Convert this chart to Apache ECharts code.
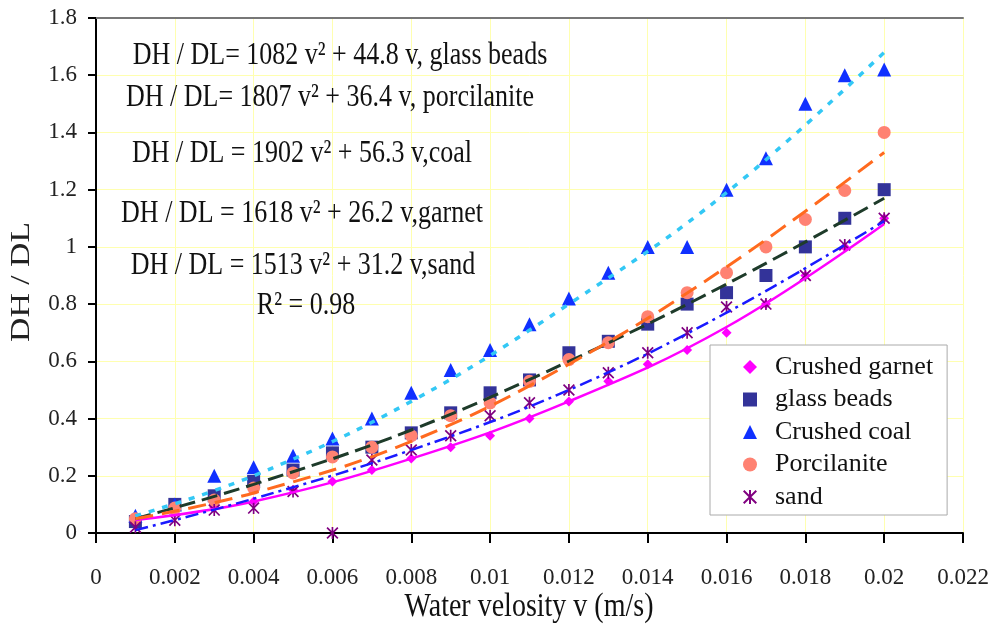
<!DOCTYPE html>
<html>
<head>
<meta charset="utf-8">
<script src="https://cdn.jsdelivr.net/npm/echarts@6/dist/echarts.min.js"></script>
<style>
  html, body { margin: 0; padding: 0; background: #fff; }
  #chart { width: 994px; height: 635px; }
</style>
</head>
<body>
<div id="chart"></div>
<script>
// ---------------- DATA ----------------
const velocity = [0.001, 0.002, 0.003, 0.004, 0.005, 0.006, 0.007, 0.008, 0.009, 0.010,
                  0.011, 0.012, 0.013, 0.014, 0.015, 0.016, 0.017, 0.018, 0.019, 0.020];
const crushedGarnet = [0.04, 0.07, 0.09, 0.11, 0.15, 0.18, 0.22, 0.26, 0.30, 0.34,
                       0.40, 0.46, 0.53, 0.59, 0.64, 0.70, 0.80, 0.90, 1.00, 1.10];
const glassBeads = [0.04, 0.10, 0.13, 0.18, 0.22, 0.28, 0.30, 0.35, 0.42, 0.49,
                    0.535, 0.63, 0.67, 0.73, 0.80, 0.84, 0.90, 1.00, 1.10, 1.20];
const crushedCoal = [0.06, 0.10, 0.20, 0.23, 0.27, 0.33, 0.40, 0.49, 0.57, 0.64,
                     0.73, 0.82, 0.91, 1.00, 1.00, 1.20, 1.31, 1.50, 1.60, 1.62];
const porcilanite = [0.05, 0.087, 0.115, 0.157, 0.21, 0.266, 0.30, 0.34, 0.41, 0.455,
                     0.53, 0.606, 0.665, 0.756, 0.84, 0.91, 1.00, 1.096, 1.197, 1.40];
const sand = [0.02, 0.045, 0.08, 0.087, 0.145, 0.0, 0.255, 0.29, 0.34, 0.41,
              0.455, 0.50, 0.56, 0.63, 0.70, 0.79, 0.80, 0.90, 1.007, 1.10];

// trend lines (at a few velocities)
const fitVelocity = [0.001, 0.004, 0.008, 0.012, 0.016, 0.020];
const garnetFit = [0.045, 0.11, 0.26, 0.46, 0.72, 1.08];
const glassFit = [0.05, 0.17, 0.36, 0.60, 0.87, 1.17];
const coalFit = [0.06, 0.20, 0.46, 0.80, 1.19, 1.68];
const porcilaniteFit = [0.05, 0.14, 0.32, 0.59, 0.93, 1.33];
const sandFit = [0.01, 0.12, 0.29, 0.50, 0.77, 1.09];

const seriesNames = ['Crushed garnet', 'glass beads', 'Crushed coal', 'Porcilanite', 'sand'];
const annotationText = [
  'DH / DL= 1082 v\u00B2 + 44.8 v, glass beads',
  'DH / DL= 1807 v\u00B2 + 36.4 v, porcilanite',
  'DH / DL = 1902 v\u00B2 + 56.3 v,coal',
  'DH / DL = 1618 v\u00B2 + 26.2 v,garnet',
  'DH / DL = 1513 v\u00B2 + 31.2 v,sand',
  'R\u00B2 = 0.98'
];
const xAxisTitle = 'Water velosity v (m/s)';
const yAxisTitle = 'DH / DL';
const xMin = 0, xMax = 0.022, xStep = 0.002;
const yMin = 0, yMax = 1.8, yStep = 0.2;

// ---------------- LAYOUT / STYLE ----------------
const FONT = 'Liberation Serif';
const annotationPos = [[340, 55], [330, 97], [302, 153], [302, 213], [303, 265], [306, 305]];
const asterisk = 'path://M4.3 0 L5.7 0 L5.7 10 L4.3 10 Z M0 1 L1 0 L10 9 L9 10 Z M9 0 L10 1 L1 10 L0 9 Z';

function pairs(xs, ys) { return xs.map((x, i) => [x, ys[i]]); }

const chart = echarts.init(document.getElementById('chart'), null, { renderer: 'canvas' });

const scatterStyle = [
  { symbol: 'diamond', size: 10, color: '#ff00ff' },
  { symbol: 'rect', size: 13, color: '#333399' },
  { symbol: 'triangle', size: 14, color: '#1030ff' },
  { symbol: 'circle', size: 13, color: '#ff8272' },
  { symbol: asterisk, size: 12, color: '#800080' }
];
const pointData = [crushedGarnet, glassBeads, crushedCoal, porcilanite, sand];
const fitData = [garnetFit, glassFit, coalFit, porcilaniteFit, sandFit];
const fitStyle = [
  { color: '#ff00ff', width: 2.5, type: 'solid' },
  { color: '#1e3b2a', width: 3, type: [16, 7] },
  { color: '#33c8f5', width: 3.5, type: [6, 8] },
  { color: '#ff6a1f', width: 3, type: [18, 9] },
  { color: '#1a1aff', width: 2.5, type: [13, 5, 3, 5] }
];

const series = [];
seriesNames.forEach((name, i) => {
  series.push({
    name: name,
    type: 'scatter',
    symbol: scatterStyle[i].symbol,
    symbolSize: scatterStyle[i].size,
    itemStyle: { color: scatterStyle[i].color, opacity: 1 },
    data: pairs(velocity, pointData[i]),
    z: 3
  });
});
seriesNames.forEach((name, i) => {
  series.push({
    name: name + ' trend',
    type: 'line',
    smooth: 0.4,
    showSymbol: false,
    symbol: 'none',
    lineStyle: fitStyle[i],
    data: pairs(fitVelocity, fitData[i]),
    z: 4,
    silent: true
  });
});

const graphics = annotationText.map((t, i) => ({
  type: 'text',
  x: annotationPos[i][0],
  y: annotationPos[i][1],
  scaleY: 1.25,
  z: 10,
  style: {
    text: t, x: 0, y: 0,
    fill: '#111',
    fontFamily: FONT, fontSize: 26,
    textAlign: 'center',
    textVerticalAlign: 'middle'
  }
}));
graphics.push({
  type: 'text', x: 529, y: 607, scaleY: 1.2, z: 10,
  style: { text: xAxisTitle, x: 0, y: 0, fill: '#111', fontFamily: FONT, fontSize: 28,
           textAlign: 'center', textVerticalAlign: 'middle' }
});
graphics.push({
  type: 'text', x: 22, y: 282, rotation: Math.PI / 2, scaleX: 1.25, z: 10,
  style: { text: yAxisTitle, x: 0, y: 0, fill: '#222', fontFamily: FONT, fontSize: 27,
           textAlign: 'center', textVerticalAlign: 'middle' }
});

const option = {
  backgroundColor: '#ffffff',
  animation: false,
  textStyle: { fontFamily: FONT },
  grid: { left: 96, right: 31, top: 18, bottom: 102, containLabel: false },
  legend: {
    data: seriesNames,
    orient: 'vertical',
    left: 710,
    top: 345,
    backgroundColor: '#ffffff',
    borderColor: '#aaaaaa',
    borderWidth: 1,
    borderRadius: 0,
    padding: [9, 14, 5, 33],
    itemWidth: 14,
    itemHeight: 14,
    itemGap: 6.5,
    textStyle: { fontFamily: FONT, fontSize: 26, color: '#111', lineHeight: 26, padding: [0, 0, 0, 13] },
    z: 20
  },
  xAxis: [{
    type: 'value',
    min: xMin, max: xMax, interval: xStep,
    axisLine: { show: true, onZero: false, lineStyle: { color: '#000', width: 2 } },
    axisTick: { show: true, inside: false, length: 10, lineStyle: { color: '#000', width: 2 } },
    axisLabel: {
      margin: 33, fontFamily: FONT, fontSize: 23, color: '#222',
      formatter: v => String(Number(v.toFixed(3)))
    },
    splitLine: { show: true, lineStyle: { color: '#ffffb0', width: 1 } }
  }, {
    type: 'value', position: 'top',
    min: xMin, max: xMax,
    axisLine: { show: true, onZero: false, lineStyle: { color: '#777', width: 2 } },
    axisTick: { show: false }, axisLabel: { show: false }, splitLine: { show: false }
  }],
  yAxis: {
    type: 'value',
    min: yMin, max: yMax, interval: yStep,
    axisLine: { show: true, onZero: false, lineStyle: { color: '#000', width: 2 } },
    axisTick: { show: true, inside: false, length: 8, lineStyle: { color: '#000', width: 2 } },
    axisLabel: {
      margin: 19, fontFamily: FONT, fontSize: 23, color: '#222',
      formatter: v => String(Number(v.toFixed(1)))
    },
    splitLine: { show: true, lineStyle: { color: '#ffffb0', width: 1 } }
  },
  graphic: graphics,
  series: series
};

chart.setOption(option);
</script>
</body>
</html>
